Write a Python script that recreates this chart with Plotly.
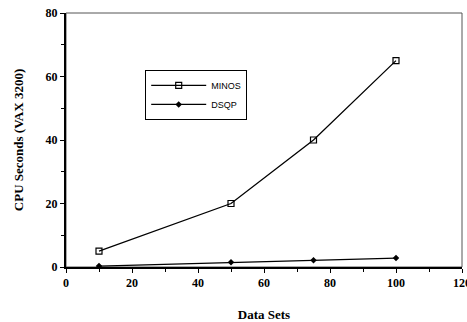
import plotly.graph_objects as go

data_sets = [10, 50, 75, 100]
minos = [5, 20, 40, 65]
dsqp = [0.3, 1.5, 2.1, 2.8]

fig = go.Figure()
fig.add_trace(go.Scatter(x=data_sets, y=minos, name="MINOS", mode="lines+markers",
                         line=dict(color="black", width=1.3),
                         marker=dict(symbol="square-open", size=6, color="black", line=dict(width=1.2))))
fig.add_trace(go.Scatter(x=data_sets, y=dsqp, name="DSQP", mode="lines+markers",
                         line=dict(color="black", width=1.3),
                         marker=dict(symbol="diamond", size=5, color="black")))

tickfont = dict(family="Liberation Serif", size=12, color="black", weight="bold")
fig.update_layout(
    width=467, height=322,
    margin=dict(l=66, r=5, t=13, b=55),
    paper_bgcolor="white", plot_bgcolor="white",
    showlegend=True,
    legend=dict(x=0.2, y=0.776, xanchor="left", yanchor="top",
                bordercolor="black", borderwidth=1, bgcolor="white",
                font=dict(family="Liberation Sans", size=9, color="black"),
                tracegroupgap=0, itemwidth=55),
    xaxis=dict(range=[0, 120], tickvals=[0, 20, 40, 60, 80, 100, 120],
               ticks="outside", ticklen=4, tickcolor="black", tickwidth=1,
               minor=dict(dtick=10, ticks="outside", ticklen=3, tickcolor="black"),
               showgrid=False, zeroline=False, showline=True, linecolor="black", linewidth=2,
               tickfont=tickfont, ticklabeloverflow="allow", automargin=False,
               title=dict(text="Data Sets", font=dict(family="Liberation Serif", size=13, color="black", weight="bold"), standoff=20)),
    yaxis=dict(range=[0, 80], tickvals=[0, 20, 40, 60, 80],
               ticks="outside", ticklen=4, tickcolor="black", tickwidth=1,
               minor=dict(dtick=10, ticks="outside", ticklen=3, tickcolor="black"),
               showgrid=False, zeroline=False, showline=True, linecolor="black", linewidth=2,
               tickfont=tickfont, ticklabeloverflow="allow", automargin=False,
               title=dict(text="CPU Seconds (VAX 3200)", font=dict(family="Liberation Serif", size=13, color="black", weight="bold"), standoff=19)),
)
fig.add_shape(type="rect", xref="paper", yref="paper", x0=0, y0=0, x1=1, y1=1,
              line=dict(color="#555", width=1), layer="below")
fig.write_html("out.html")
